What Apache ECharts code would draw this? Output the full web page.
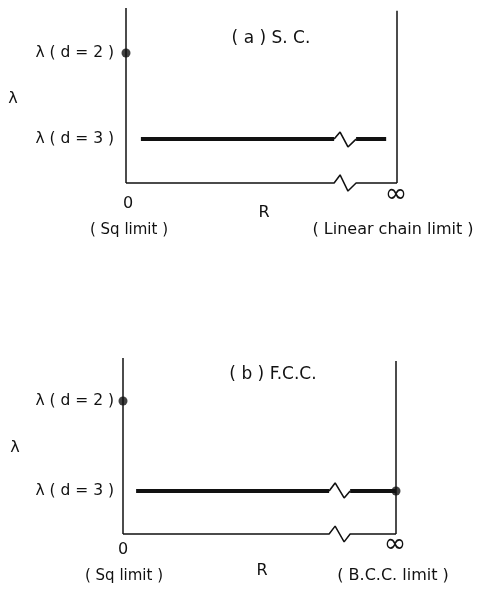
<!DOCTYPE html>
<html><head><meta charset="utf-8">
<script src="https://cdn.jsdelivr.net/npm/echarts@6/dist/echarts.min.js"></script>
<style>html,body{margin:0;padding:0;background:#fff}#c{width:480px;height:589px}</style>
</head><body><div id="c"></div>
<script>
// ---- data (x: 0 = Sq limit, 10 = infinite R; y: lambda scale, 0 = axis) ----
const panelTitles = ['( a ) S. C.', '( b ) F.C.C.'];
const rightLimitLabels = ['( Linear chain limit )', '( B.C.C. limit )'];
const leftLimitLabel = '( Sq limit )';
const xTickLabels = ['0', '\u221E'];
const lambdaLabels = ['\u03BB ( d = 2 )', '\u03BB ( d = 3 )'];

// panel (a)
const aLeftAxis = [[0, 0], [0, 10]];
const aRightAxis = [[10, 0], [10, 9.85]];
const aBottomAxis = [[0, 0], [7.68, 0], [7.9, 0.46], [8.19, -0.46], [8.49, 0], [10, 0]];
const aD3Thick1 = [[0.55, 2.51], [7.68, 2.51]];
const aD3Zig = [[7.68, 2.51], [7.9, 2.91], [8.19, 2.06], [8.49, 2.51]];
const aD3Thick2 = [[8.49, 2.51], [9.6, 2.51]];
const aDots = [[0, 7.43]];

// panel (b)
const bLeftAxis = [[0, 0], [0, 10]];
const bRightAxis = [[10, 0], [10, 9.83]];
const bBottomAxis = [[0, 0], [7.55, 0], [7.77, 0.45], [8.1, -0.45], [8.32, 0], [10, 0]];
const bD3Thick1 = [[0.48, 2.44], [7.55, 2.44]];
const bD3Zig = [[7.55, 2.44], [7.77, 2.9], [8.1, 2.05], [8.32, 2.44]];
const bD3Thick2 = [[8.32, 2.44], [10, 2.44]];
const bDots = [[0, 7.56], [10, 2.44]];

const INK = '#111';
const FONT = 'DejaVu Sans';

function line(data, gi, w) {
  return {type: 'line', xAxisIndex: gi, yAxisIndex: gi, data: data, showSymbol: false,
    symbol: 'none', lineStyle: {color: INK, width: w}, silent: true, animation: false};
}
function dots(data, gi) {
  return {type: 'scatter', xAxisIndex: gi, yAxisIndex: gi, data: data, symbolSize: 9,
    itemStyle: {color: INK}, silent: true, animation: false};
}
function txt(x, y, s, align, size) {
  return {type: 'text', x: x, y: y, style: {text: s, fill: INK, font: (size || 16) + 'px "' + FONT + '"',
    textAlign: align || 'center', textVerticalAlign: 'middle'}};
}

const chart = echarts.init(document.getElementById('c'), null, {renderer: 'canvas'});
chart.setOption({
  backgroundColor: '#fff',
  animation: false,
  grid: [
    {left: 126, top: 8, width: 271, height: 192.5},
    {left: 123, top: 358, width: 273, height: 193.6}
  ],
  xAxis: [
    {gridIndex: 0, type: 'value', min: 0, max: 10, show: false},
    {gridIndex: 1, type: 'value', min: 0, max: 10, show: false}
  ],
  yAxis: [
    {gridIndex: 0, type: 'value', min: -1, max: 10, show: false},
    {gridIndex: 1, type: 'value', min: -1, max: 10, show: false}
  ],
  series: [
    line(aLeftAxis, 0, 1.5), line(aRightAxis, 0, 1.5), line(aBottomAxis, 0, 1.5),
    line(aD3Thick1, 0, 4), line(aD3Zig, 0, 1.6), line(aD3Thick2, 0, 4), dots(aDots, 0),
    line(bLeftAxis, 1, 1.5), line(bRightAxis, 1, 1.5), line(bBottomAxis, 1, 1.5),
    line(bD3Thick1, 1, 4), line(bD3Zig, 1, 1.6), line(bD3Thick2, 1, 4), dots(bDots, 1)
  ],
  graphic: [
    txt(271, 39, panelTitles[0], 'center', 17),
    txt(114, 53, lambdaLabels[0], 'right', 15.5),
    txt(114, 139, lambdaLabels[1], 'right', 15.5),
    txt(13, 99, '\u03BB'),
    txt(128, 204, xTickLabels[0]),
    txt(396, 195, xTickLabels[1], 'center', 27),
    txt(264, 213, 'R'),
    txt(129, 230, leftLimitLabel, 'center', 15),
    txt(393, 230, rightLimitLabels[0]),

    txt(273, 375, panelTitles[1], 'center', 17),
    txt(114, 401, lambdaLabels[0], 'right', 15.5),
    txt(114, 491, lambdaLabels[1], 'right', 15.5),
    txt(15, 448, '\u03BB'),
    txt(123, 550, xTickLabels[0]),
    txt(395, 545, xTickLabels[1], 'center', 27),
    txt(262, 571, 'R'),
    txt(124, 576, leftLimitLabel, 'center', 15),
    txt(393, 576, rightLimitLabels[1])
  ]
});
</script></body></html>
